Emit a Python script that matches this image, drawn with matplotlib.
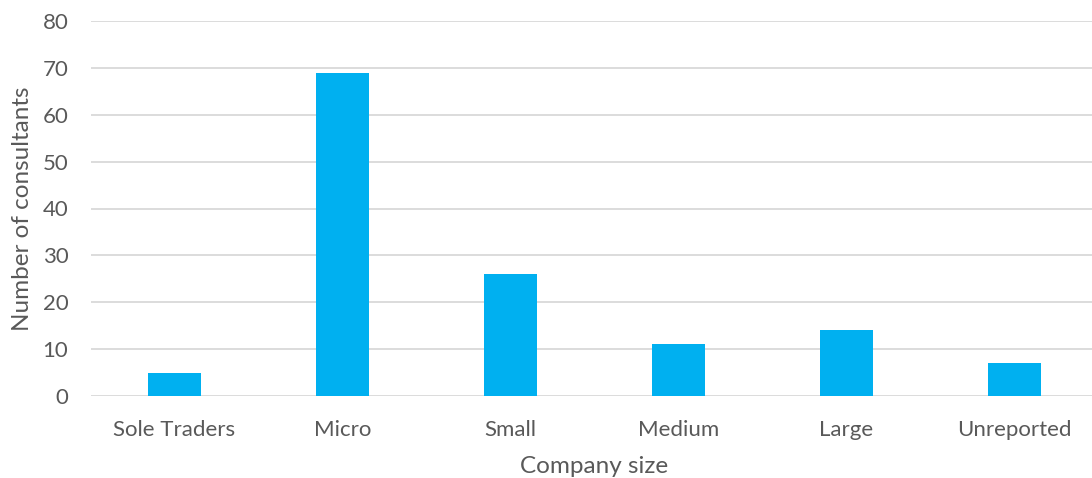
import matplotlib
matplotlib.use("Agg")
import matplotlib.pyplot as plt

# data
categories = ["Sole Traders", "Micro", "Small", "Medium", "Large", "Unreported"]
consultants = [5, 69, 26, 11, 14, 7]

plt.rcParams["font.family"] = ["Lato", "DejaVu Sans"]
text_col = "#595959"

fig = plt.figure(figsize=(10.92, 4.78), dpi=100)
# plot area: x from 91 px, 168 px per category (runs slightly past the right edge)
ax = fig.add_axes([90.5 / 1092, (478 - 396) / 478, 1008 / 1092, 375 / 478])

x = list(range(len(categories)))
ax.bar(x, consultants, width=0.315, color="#00B0F0", zorder=3)

ax.set_xlim(-0.5, len(categories) - 0.5)
ax.set_ylim(0, 80)
ax.set_yticks(range(0, 81, 10))
ax.set_xticks(x)
ax.set_xticklabels(categories)
ax.yaxis.grid(True, color="#d9d9d9", linewidth=1.3, zorder=0)
for s in ax.spines.values():
    s.set_visible(False)
ax.tick_params(length=0, labelsize=16, colors=text_col)
ax.tick_params(axis="y", pad=16)
ax.tick_params(axis="x", pad=17)

ax.set_xlabel("Company size", fontsize=17.5, color=text_col, labelpad=12)
ax.set_ylabel("Number of consultants", fontsize=17.5, color=text_col, labelpad=7)

fig.savefig("out.png", dpi=100)
